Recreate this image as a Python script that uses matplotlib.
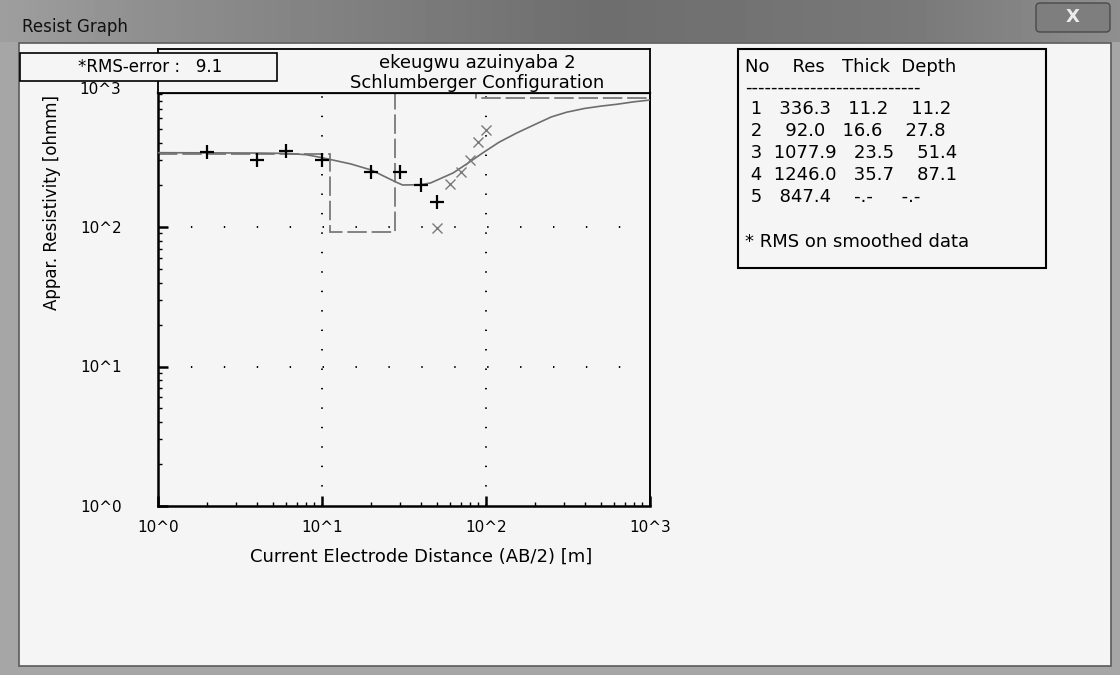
import numpy as np
import matplotlib.pyplot as plt
from matplotlib.patches import Rectangle, FancyBboxPatch
from matplotlib.ticker import LogLocator, NullFormatter

plt.rcParams['lines.scale_dashes'] = False

# measured data (+) and smoothed points (x)
ab_obs = [2, 4, 6, 10, 20, 30, 40, 50]
rho_obs = [347, 302, 351, 302, 249, 249, 200, 150]
ab_smooth = [50, 60, 70, 80, 90, 100]
rho_smooth = [99, 202, 249, 302, 409, 496]

# calculated response curve
ab_calc = [1, 2, 4, 6, 8, 10, 15, 20, 28, 31, 40, 46, 63, 80, 96, 120, 154, 200, 250,
           310, 400, 500, 627, 800, 1000]
rho_calc = [341, 340, 339, 337, 330, 314, 283, 256, 211, 200, 201, 207, 244, 294, 341, 405, 472, 545, 615,
            665, 708, 735, 758, 790, 813]

# layer model
layer_no = [1, 2, 3, 4, 5]
layer_res = [336.3, 92.0, 1077.9, 1246.0, 847.4]
layer_thick = [11.2, 16.6, 23.5, 35.7]
layer_depth = [11.2, 27.8, 51.4, 87.1]
rms_error = 9.1

x_ticks = [1, 10, 100, 1000]
x_labels = ['10^0', '10^1', '10^2', '10^3']
y_ticks = [1, 10, 100]
y_labels = ['10^0', '10^1', '10^2']

W, H = 1120, 675
bgc = '#f5f5f5'
fig = plt.figure(figsize=(W / 100, H / 100), dpi=100)
fig.patch.set_facecolor('#a6a6a6')

# window chrome
bg = fig.add_axes([0, 0, 1, 1])
bg.set_xlim(0, W)
bg.set_ylim(H, 0)
bg.axis('off')
xs = np.arange(W)
grad = np.interp(xs, [0, 150, 600, 900, 1120], [0.62, 0.56, 0.43, 0.47, 0.56])[None, :]
bg.imshow(grad, extent=(0, W, 42, 0), cmap='gray', vmin=0, vmax=1, aspect='auto')
bg.add_patch(Rectangle((19, 43), 1092, 623, fc=bgc, ec='#5a5a5a', lw=1.2))
bg.add_patch(FancyBboxPatch((1036, 3), 74, 29, boxstyle='round,pad=0,rounding_size=4',
                            fc='#7e7e7e', ec='#4a4a4a', lw=1))
bg.text(1073, 17, 'X', color='#ececec', fontsize=13, fontweight='bold', ha='center', va='center')
bg.text(22, 27, 'Resist Graph', color='#111111', fontsize=12, ha='left', va='center')

# main plot
ax = fig.add_axes([158 / W, 1 - 506 / H, 492 / W, 413 / H])
ax.set_facecolor(bgc)
ax.set_xscale('log')
ax.set_yscale('log')
ax.set_xlim(1, 1000)
ax.set_ylim(1, 10 ** (413 / 139.5))

for v in [10, 100]:
    ax.axvline(v, color='k', lw=1.4, ls=(0, (1, 13)), zorder=1)
    ax.axhline(v, color='k', lw=1.4, ls=(0, (1, 22.7)), zorder=1)

ax.stairs(layer_res, [1] + layer_depth + [1000], baseline=None, color='#7a7a7a',
          lw=1.3, linestyle=(0, (14, 3.5)), zorder=2)
ax.plot(ab_calc, rho_calc, color='#6e6e6e', lw=1.2, zorder=3)
ax.plot(ab_obs, rho_obs, '+', color='k', ms=10, mew=1.6, zorder=4)
ax.plot(ab_smooth, rho_smooth, 'x', color='#7a7a7a', ms=6.5, mew=1, zorder=4)

ax.set_xticks(x_ticks)
ax.set_xticklabels(x_labels)
ax.set_yticks(y_ticks)
ax.set_yticklabels(y_labels)
for a in (ax.xaxis, ax.yaxis):
    a.set_minor_locator(LogLocator(base=10, subs=np.arange(2, 10)))
    a.set_minor_formatter(NullFormatter())
ax.tick_params(which='major', direction='in', length=7, width=1.8, labelsize=11)
ax.tick_params(axis='x', which='major', pad=10)
ax.tick_params(axis='y', which='major', pad=26)
ax.tick_params(which='minor', direction='in', length=3, width=1)
ax.text(-37 / 492, 1000, '10^3', transform=ax.get_yaxis_transform(), ha='right',
        va='center_baseline', fontsize=11, clip_on=False)
for s, w in [('left', 1.8), ('bottom', 1.8), ('top', 1.6), ('right', 1.4)]:
    ax.spines[s].set_linewidth(w)

# header band above plot
hd = fig.add_axes([158 / W, 1 - 93 / H, 492 / W, 44 / H])
hd.set_facecolor(bgc)
hd.set_xticks([])
hd.set_yticks([])
for s in hd.spines.values():
    s.set_linewidth(1.3)

# overlay texts and boxes
ov = fig.add_axes([0, 0, 1, 1], zorder=5)
ov.set_xlim(0, W)
ov.set_ylim(H, 0)
ov.axis('off')
ov.text(477, 63, 'ekeugwu azuinyaba 2', fontsize=13, ha='center', va='center')
ov.text(477, 83, 'Schlumberger Configuration', fontsize=13, ha='center', va='center')
ov.add_patch(Rectangle((20, 53), 257, 28, fc=bgc, ec='k', lw=1.2))
ov.text(150, 67, '*RMS-error :   {}'.format(rms_error), fontsize=12, ha='center', va='center')
ov.text(52, 203, 'Appar. Resistivity [ohmm]', fontsize=12, rotation=90, ha='center', va='center')
ov.text(421, 557, 'Current Electrode Distance (AB/2) [m]', fontsize=13, ha='center', va='center')

ov.add_patch(Rectangle((738, 49), 308, 219, fc=bgc, ec='k', lw=1.5))
ov.text(745, 67, 'No    Res   Thick  Depth', fontsize=13, va='center')
ov.text(745, 88, '-' * 27, fontsize=13, va='center')
for i in range(len(layer_no)):
    if i < len(layer_thick):
        row = '{:2d}{:8.1f}{:7.1f}{:8.1f}'.format(layer_no[i], layer_res[i], layer_thick[i], layer_depth[i])
    else:
        row = '{:2d}{:8.1f}    -.-     -.-'.format(layer_no[i], layer_res[i])
    ov.text(745, 109 + 22 * i, row, fontsize=13, va='center')
ov.text(745, 242, '* RMS on smoothed data', fontsize=13, va='center')

plt.savefig('out.png', dpi=100, facecolor=fig.get_facecolor())
